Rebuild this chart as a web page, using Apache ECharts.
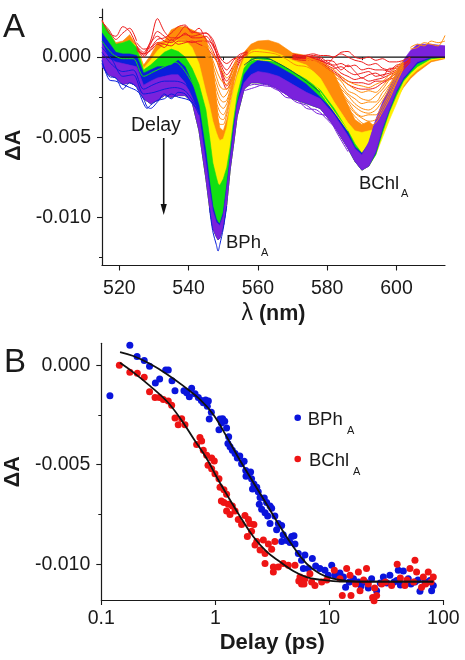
<!DOCTYPE html>
<html><head><meta charset="utf-8">
<style>html,body{margin:0;padding:0;background:#fff}#c{width:465px;height:660px}canvas{filter:blur(0.45px)}</style>
<script src="https://cdn.jsdelivr.net/npm/echarts@6/dist/echarts.min.js"></script></head>
<body><div id="c"></div>
<script>
// Panel A: spectra, signal values in units of 0.001 dA
const wl=[515,517,519,521,523,525,527,529,531,533,535,537,539,541,543,545,546,547,548,548.5,549,550,551,552,553,554,556,558,560,563,566,570,574,578,582,586,588,590,592,594,596,598,600,602,604,606,610,614];
const orangeTop=[2.3,1.5,0.9,1.0,1.4,0.7,-0.5,0.1,0.9,1.0,1.7,1.9,1.9,1.7,1.5,1.2,0.3,-0.3,-2.6,-3.8,-4.4,-4.6,-3.9,-3.0,-1.8,-1.0,0.3,0.8,1.0,1.05,0.85,0.25,0.1,-0.2,-1.0,-3.0,-3.9,-4.2,-4.0,-4.4,-3.5,-2.8,-2.0,-1.2,-0.6,-0.2,0,0];
const yellowTop=[2.2,1.3,0.7,0.9,1.0,0.7,-0.7,-0.2,0.4,0.8,1.0,1.05,1.05,0.6,-0.4,-2.2,-3.0,-4.0,-4.7,-5.0,-5.2,-5.1,-4.4,-3.1,-2.0,-1.2,-0.1,0.4,0.5,0.4,0.2,-0.2,-0.5,-1.3,-2.8,-4.1,-4.6,-4.7,-4.6,-4.5,-3.9,-3.0,-2.1,-1.3,-0.8,-0.4,-0.1,0];
const greenTop=[2.2,1.6,0.8,0.9,1.05,0.6,-0.8,-0.5,-0.1,0.3,0.5,0.35,0.0,-0.7,-1.7,-3.3,-4.9,-6.6,-7.5,-7.9,-8.0,-7.6,-6.9,-5.6,-3.9,-2.4,-0.7,-0.1,0.0,-0.05,-0.4,-0.9,-1.4,-2.05,-3.2,-4.6,-5.4,-6.0,-6.0,-4.6,-3.5,-2.5,-1.6,-0.9,-0.5,-0.2,-0.1,0];
const blueTop=[1.5,0.9,0.3,0.2,0.2,0.1,-1.0,-0.8,-0.6,-0.6,-0.5,-0.2,-0.6,-1.6,-3.0,-5.9,-7.7,-9.3,-10.1,-10.3,-10.4,-9.7,-8.0,-6.2,-4.3,-2.9,-1.1,-0.5,-0.2,-0.3,-0.6,-1.1,-1.7,-2.5,-3.4,-4.7,-5.6,-6.0,-5.4,-4.0,-2.9,-2.0,-1.1,-0.3,0.3,0.6,0.6,0.5];
const violetTop=[0.9,-0.1,-0.3,-0.4,-0.5,-0.6,-1.75,-1.5,-1.3,-1.2,-1.1,-1.1,-1.6,-2.5,-3.6,-6.6,-8.2,-9.6,-10.3,-10.4,-10.5,-9.9,-8.2,-6.4,-4.6,-3.0,-1.6,-1.1,-0.9,-1.0,-1.2,-1.7,-2.2,-2.6,-3.6,-4.9,-5.7,-6.1,-5.3,-3.9,-2.8,-1.9,-1.0,-0.2,0.4,0.8,0.8,0.7];
const sharedFloor=[-0.6,-1.1,-1.3,-1.7,-1.6,-1.8,-2.6,-2.9,-2.7,-2.4,-2.5,-2.4,-2.4,-2.8,-4.6,-7.6,-9.3,-10.7,-11.2,-11.4,-11.3,-10.6,-9.2,-7.0,-5.4,-3.7,-2.0,-1.6,-1.6,-1.7,-2.0,-2.6,-2.9,-3.2,-4.3,-5.7,-6.5,-7.05,-6.8];
const violetFlank=[-5.9,-4.4,-3.2,-2.1,-1.3,-0.8,-0.3,0,0];
const blueFlank=[-6.0,-4.5,-3.3,-2.2,-1.4,-0.9,-0.4,-0.05,0];
const greenFlank=[-6.1,-4.7,-3.4,-2.4,-1.5,-1.0,-0.6,-0.1,0];
const yellowFlank=[-6.1,-5.0,-3.9,-2.9,-1.8,-1.2,-0.8,-0.2,-0.05];
const orangeFlank=[-6.0,-4.6,-3.6,-2.6,-1.9,-1.35,-0.95,-0.3,-0.1];

const redWlEarly=[515,517,519,521,523,525];
const redEarly=[[2.3,1.5,1.3,1.9,1.6,0.7],[2.2,1.7,1.1,1.5,1.8,1.0]];
const redWlLeft=[525,527,529,531,533,535,537,539,541,543,545,547,549,551,553,555,557];
const redLeft=[
[0.5,0.2,1.0,2.4,1.6,1.2,1.2,1.5,1.2,1.2,1.3,0.7,-0.2,-0.8,-0.2,0.2,0.3],
[0.7,0.1,0.8,1.6,1.3,1.0,1.4,1.9,1.6,1.5,1.5,1.1,0.0,-0.4,-0.1,0.0,0.3],
[0.9,0.5,0.6,1.1,1.2,1.5,1.9,2.0,1.5,1.8,1.1,0.8,-0.3,-1.1,-0.5,0.1,0.4],
[0.7,0.3,0.9,1.3,1.0,0.9,1.2,1.4,1.3,1.4,1.5,0.9,-0.5,-1.5,-0.7,0.0,0.2],
[0.6,0.0,0.5,0.9,0.8,0.7,1.0,1.0,0.9,1.0,1.0,0.4,-0.8,-2.0,-1.2,-0.2,0.2],
[0.4,0.2,0.4,0.8,0.6,1.1,0.8,0.9,1.0,0.8,0.6,0.1,-0.6,-1.8,-1.0,-0.1,0.1]];
const redWlRight=[570,573,576,578,580,582,584,586,588,590,592,594,596,598,600,602,604];
const redRight=[
[0.2,0.1,0.2,0.1,0.1,0.0,0.3,0.35,0.0,-0.1,0.0,-0.2,-0.1,-0.3,-0.3,-0.2,0.0],
[0.1,0.1,0.0,-0.1,-0.4,0.0,0.2,0.0,-0.2,-0.3,-0.5,-0.4,-0.7,-0.8,-0.5,-0.4,-0.1],
[0.1,0.0,0.1,0.0,-0.3,-0.5,-0.4,-0.6,-0.5,-0.8,-0.7,-0.8,-0.8,-0.9,-0.6,-0.5,-0.1],
[0.0,0.0,-0.1,-0.2,-0.5,-0.7,-0.6,-0.9,-1.1,-1.0,-0.9,-1.2,-1.1,-1.0,-0.8,-0.5,-0.2],
[0.0,-0.1,0.0,-0.2,-0.4,-0.6,-1.0,-1.2,-1.4,-1.3,-1.5,-1.4,-1.3,-1.1,-0.9,-0.6,-0.2],
[-0.1,-0.1,-0.1,-0.3,-0.6,-0.9,-1.2,-1.5,-1.6,-1.6,-1.7,-1.5,-1.5,-1.3,-1.0,-0.7,-0.3],
[-0.1,-0.2,-0.2,-0.4,-0.7,-1.0,-1.3,-1.7,-1.9,-2.0,-2.0,-1.9,-1.6,-1.4,-1.2,-0.8,-0.3],
[0.1,0.0,-0.1,-0.3,-0.2,-0.3,-0.8,-0.5,-0.9,-1.3,-1.1,-1.0,-1.2,-0.7,-0.7,-0.4,-0.1]];
const orangeWlPeak=[544,545,546,547,548,549,550,551,552,553,554];
const orangePeak=[
[1.2,0.9,0.6,0.2,-0.2,-0.6,-1.0,-1.3,-1.1,-0.5,0.0],
[1.1,0.7,0.3,-0.2,-0.8,-1.3,-1.6,-1.7,-1.3,-0.7,-0.2],
[1.0,0.6,0.1,-0.5,-1.2,-1.8,-2.0,-2.0,-1.6,-0.9,-0.3],
[1.0,0.5,-0.1,-0.9,-1.6,-2.2,-2.5,-2.3,-1.8,-1.0,-0.4],
[0.9,0.4,-0.3,-1.2,-2.0,-2.6,-2.8,-2.7,-2.0,-1.2,-0.5],
[0.9,0.3,-0.5,-1.4,-2.4,-3.0,-3.2,-2.9,-2.2,-1.3,-0.6],
[0.8,0.2,-0.7,-1.7,-2.8,-3.4,-3.6,-3.2,-2.4,-1.4,-0.6],
[0.7,0.1,-0.9,-2.0,-3.1,-3.8,-3.9,-3.4,-2.5,-1.5,-0.7],
[0.7,0.0,-1.0,-2.3,-3.4,-4.2,-4.2,-3.6,-2.7,-1.6,-0.7]];
const orangeWlBChl=[574,578,582,584,586,588,590,592,594,596,598,600,602];
const orangeBChl=[
[0.0,-0.3,-0.8,-1.2,-1.5,-1.7,-1.8,-1.9,-1.7,-1.5,-1.1,-0.6,-0.2],
[0.0,-0.4,-1.0,-1.4,-1.7,-2.0,-2.2,-2.1,-2.2,-1.8,-1.3,-0.8,-0.3],
[-0.1,-0.5,-1.2,-1.5,-2.1,-2.3,-2.6,-2.7,-2.4,-2.0,-1.4,-0.9,-0.3],
[-0.1,-0.6,-1.3,-1.8,-2.3,-2.6,-2.9,-2.8,-2.8,-2.2,-1.7,-1.0,-0.4],
[-0.1,-0.6,-1.4,-2.0,-2.4,-2.9,-3.2,-3.3,-3.0,-2.5,-1.8,-1.1,-0.4],
[-0.2,-0.7,-1.5,-2.1,-2.7,-3.1,-3.4,-3.5,-3.3,-2.7,-2.0,-1.2,-0.5],
[-0.2,-0.7,-1.6,-2.3,-2.8,-3.4,-3.7,-3.6,-3.6,-3.0,-2.2,-1.3,-0.5],
[-0.2,-0.8,-1.7,-2.4,-3.0,-3.5,-3.8,-4.0,-3.9,-3.2,-2.4,-1.5,-0.6],
[-0.2,-0.9,-1.8,-2.5,-3.2,-3.7,-4.1,-4.3,-4.1,-3.4,-2.6,-1.6,-0.7]];
const orangeWlEnd=[604,606,608,610,612,614];
const orangeEnd=[[0.5,0.6,0.9,0.8,0.7,1.35],[0.6,0.8,0.7,1.0,0.9,1.0]];
const blueWlTip=[546,547,548,548.5,549,550,551];
const blueTip=[-9.4,-10.9,-11.7,-12.1,-11.7,-10.7,-9.3];
const blueWlDip=[515,517,519,521,523,525,527,528,529,531,533,535,537,539,541,543];
const blueDip=[
[-0.4,-1.2,-1.3,-2.0,-1.6,-1.9,-2.9,-3.2,-3.0,-2.7,-2.6,-2.3,-2.5,-2.6,-2.8,-3.6],
[-0.2,-1.4,-1.5,-1.7,-1.9,-2.1,-2.6,-3.1,-3.2,-2.8,-2.3,-2.6,-2.2,-2.3,-2.9,-3.3]];
const wlEdge=[515,518,521,524,527,530,533,536,539,542];
const blueOverViolet=[[0.3,-0.5,-0.9,-0.8,-2.0,-1.7,-1.5,-1.5,-1.7,-2.6],[0.6,-0.2,-1.2,-1.1,-2.3,-2.2,-2.0,-1.9,-2.1,-3.0]];
const greenOverBlue=[[1.0,0.2,-0.1,-0.1,-1.2,-0.9,-0.6,-0.3,-0.9,-2.0]];
const wlMid=[556,559,562,565,568,571,574,577,580,583,586];
const violetLower=[[-2.1,-1.9,-1.7,-2.0,-2.3,-2.8,-3.0,-3.5,-3.7,-4.8,-5.9],[-1.9,-1.7,-1.8,-1.9,-2.5,-2.6,-3.2,-3.3,-3.9,-4.6,-5.7]];
const orangeOverYellow=[0.0,0.35,0.3,0.2,-0.1,-0.5,-0.6,-1.0,-1.8,-2.9,-4.0];
const yellowOverGreen=[-0.5,-0.15,-0.2,-0.25,-0.5,-1.0,-1.2,-1.9,-2.8,-3.7,-4.6];
const wlDark=[556,558,560,563,566,570,574,578];
const darkTeal=[-0.5,-0.2,-0.05,-0.1,-0.4,-0.9,-1.5,-2.2];

// Panel B: [delay in ps, signal in units of 0.001 dA]
const bphPoints=[[0.119,-1.53],[0.178,1.0],[0.206,0.44],[0.238,0.24],[0.265,-0.05],[0.298,-0.9],[0.325,-0.7],[0.367,-0.24],[0.387,-0.24],[0.417,-0.78],[0.443,-1.29],[0.531,-1.29],[0.561,-1.38],[0.592,-1.58],[0.62,-1.16],[0.664,-1.43],[0.71,-1.63],[0.754,-1.77],[0.785,-1.89],[0.822,-1.75],[0.869,-1.8],[0.851,-2.06],[0.923,-2.36],[0.885,-2.7],[1.099,-2.7],[1.16,-2.69],[1.21,-2.82],[1.13,-2.91],[1.077,-3.25],[1.256,-3.16],[1.31,-3.59],[1.29,-3.93],[1.346,-4.1],[1.41,-4.27],[1.49,-4.44],[1.56,-4.66],[1.64,-4.56],[1.79,-4.83],[1.7,-4.95],[1.85,-5.29],[1.95,-5.46],[2.04,-5.37],[1.86,-5.58],[2.08,-5.71],[2.18,-5.97],[2.31,-6.14],[2.12,-6.22],[2.38,-6.36],[2.47,-6.65],[2.69,-6.68],[2.82,-6.9],[3.02,-7.07],[2.43,-6.99],[2.55,-7.24],[2.73,-7.41],[3.12,-7.19],[2.88,-7.58],[3.33,-7.58],[3.02,-7.96],[3.57,-7.96],[3.82,-8.06],[3.45,-8.27],[3.94,-8.52],[3.82,-8.86],[4.23,-8.81],[4.68,-8.61],[4.9,-8.57],[4.52,-8.91],[5.0,-8.98],[5.35,-9.46],[6.11,-9.54],[5.71,-9.8],[7.1,-9.71],[5.92,-10.22],[6.55,-10.22],[7.59,-10.09],[8.28,-10.22],[9.16,-10.31],[10.5,-10.05],[9.8,-10.56],[11.2,-10.56],[12.4,-10.44],[13.3,-10.65],[13.9,-11.16],[15,-10.9],[16.3,-10.73],[18,-10.9],[19,-11.1],[20.6,-10.9],[22,-11.2],[23.5,-10.73],[26,-11.33],[28,-10.95],[29.8,-10.65],[32,-10.95],[34,-10.56],[37,-10.9],[40.3,-10.31],[44.6,-10.34],[39,-10.82],[42,-11.05],[49.3,-10.73],[52,-11.0],[56.4,-10.9],[62.4,-11.36],[60,-10.8],[69,-10.9],[76.4,-10.82],[79,-11.33],[81.7,-11.07]];
const bchlPoints=[[0.144,0],[0.178,-0.36],[0.207,-0.41],[0.238,-0.61],[0.265,-1.33],[0.296,-1.63],[0.323,-1.63],[0.35,-1.72],[0.387,-1.8],[0.414,-2.01],[0.443,-2.65],[0.507,-2.69],[0.473,-2.99],[0.542,-2.99],[0.686,-3.98],[0.733,-3.64],[0.759,-3.81],[0.785,-4.27],[0.84,-4.52],[0.929,-4.66],[0.98,-4.81],[0.863,-5.03],[0.929,-5.2],[0.993,-5.46],[1.077,-5.71],[1.1,-6.14],[1.19,-6.26],[1.256,-6.48],[1.13,-6.82],[1.19,-6.9],[1.3,-6.99],[1.41,-7.07],[1.256,-7.33],[1.346,-7.5],[1.49,-7.33],[1.59,-7.76],[1.82,-7.55],[1.95,-7.76],[1.7,-8.01],[2.01,-7.96],[2.18,-8.01],[1.91,-8.61],[2.08,-8.35],[2.31,-8.86],[2.23,-9.03],[2.47,-9.29],[2.64,-8.78],[2.92,-8.98],[2.73,-9.46],[3.12,-9.25],[3.33,-8.86],[2.73,-9.97],[3.23,-10.14],[3.23,-10.39],[3.57,-10.14],[3.94,-9.97],[4.37,-10.05],[5,-10.05],[5.53,-10.65],[5.71,-10.99],[5.4,-10.85],[6.12,-10.73],[6.0,-11.0],[6.76,-10.48],[7.48,-11.07],[7.0,-10.9],[8.57,-10.9],[9.5,-10.8],[11.07,-10.31],[12.4,-10.73],[14.2,-10.22],[15.2,-10.56],[13,-11.58],[15.5,-11.58],[18,-10.39],[18.6,-11.33],[17,-11.0],[20,-10.8],[21.2,-10.22],[22,-10.99],[24,-11.67],[24.7,-11.84],[26,-11.58],[25,-11.2],[28.8,-10.99],[31,-10.9],[35.2,-11.07],[39.4,-10],[42,-10.7],[46,-11.07],[48,-10.8],[51,-10.22],[56.4,-9.8],[58.3,-10.39],[55,-10.9],[64.5,-11.16],[66.8,-10.65],[70,-11.0],[73.8,-10.39],[78,-10.9],[81.7,-10.65]];
const bphFit=[[0.146,0.66],[0.191,0.46],[0.267,0.07],[0.374,-0.44],[0.524,-1.04],[0.733,-1.72],[0.96,-2.48],[1.256,-3.59],[1.644,-4.78],[2.15,-5.88],[2.82,-6.99],[3.69,-8.1],[4.83,-9.12],[6.32,-9.97],[8.28,-10.48],[10.8,-10.73],[15.2,-10.85],[21.2,-10.88],[81.7,-10.88]];
const bchlFit=[[0.146,0.12],[0.191,-0.36],[0.267,-1.04],[0.374,-1.8],[0.49,-2.65],[0.641,-3.67],[0.84,-4.69],[1.03,-5.63],[1.256,-6.48],[1.644,-7.59],[2.15,-8.61],[2.82,-9.37],[3.69,-9.88],[4.83,-10.34],[6.32,-10.65],[8.28,-10.78],[10.8,-10.85],[15.2,-10.88],[81.7,-10.88]];

const ticksAX=[520,540,560,580,600], minorAX=[530,550,570,590,610];
const ticksAY=[-0.01,-0.005,0], minorAY=[-0.0125,-0.0075,-0.0025,0.0025];
const ticksBY=[-0.01,-0.005,0], minorBY=[-0.0075,-0.0025];

const COL={red:'#ee1c1c',orange:'#ff8c0a',yellow:'#fff000',green:'#12e012',blue:'#0a1edc',violet:'#7a22dc'};
const FONT='"Liberation Sans", Arial, sans-serif', INK='#1a1a1a';
const m=v=>v/1000;
const polyline=(x,y,color,w)=>({type:'line',xAxisIndex:0,yAxisIndex:0,data:x.map((v,i)=>[v,m(y[i])]),smooth:0.3,showSymbol:false,silent:true,animation:false,lineStyle:{color,width:w||1}});
const band=(top,floor,color)=>({type:'custom',xAxisIndex:0,yAxisIndex:0,clip:true,silent:true,animation:false,
  data:wl.map((v,i)=>[v,m(top[i]),m(floor[i])]),encode:{x:0,y:1},
  renderItem:(p,api)=>{ if(p.dataIndex!==0) return null;
    const pts=[]; wl.forEach((v,i)=>pts.push(api.coord([v,m(top[i])])));
    for(let i=wl.length-1;i>=0;i--) pts.push(api.coord([wl[i],m(floor[i])]));
    return {type:'polygon',shape:{points:pts},style:{fill:color,stroke:color,lineWidth:0.6,lineJoin:'round'}};
  }});

const series=[
 {type:'line',xAxisIndex:0,yAxisIndex:0,data:[[515,0],[614,0]],showSymbol:false,silent:true,animation:false,lineStyle:{color:'#111',width:1.2}},
 ...redEarly.map(y=>polyline(redWlEarly,y,COL.red)),
 ...redLeft.map(y=>polyline(redWlLeft,y,COL.red)),
 ...redRight.map(y=>polyline(redWlRight,y,COL.red)),
 band(orangeTop,sharedFloor.concat(orangeFlank),COL.orange),
 ...orangePeak.map(y=>polyline(orangeWlPeak,y,COL.orange)),
 ...orangeBChl.map(y=>polyline(orangeWlBChl,y,COL.orange)),
 ...orangeEnd.map(y=>polyline(orangeWlEnd,y,COL.orange)),
 band(yellowTop,sharedFloor.concat(yellowFlank),COL.yellow),
 polyline(wlMid,orangeOverYellow,COL.orange),
 band(greenTop,sharedFloor.concat(greenFlank),COL.green),
 polyline(wlMid,yellowOverGreen,COL.yellow),
 polyline(blueWlTip,blueTip,COL.blue),
 ...blueDip.map(y=>polyline(blueWlDip,y,COL.blue)),
 ...violetLower.map(y=>polyline(wlMid,y,COL.violet)),
 band(blueTop,sharedFloor.concat(blueFlank),COL.blue),
 band(violetTop,sharedFloor.concat(violetFlank),COL.violet),
 ...blueOverViolet.map(y=>polyline(wlEdge,y,COL.blue)),
 ...greenOverBlue.map(y=>polyline(wlEdge,y,COL.green)),
 polyline(wlDark,darkTeal,'#0a5a50'),
 {type:'scatter',xAxisIndex:2,yAxisIndex:2,data:bphPoints.map(p=>[p[0],m(p[1])]),symbolSize:7,clip:false,silent:true,animation:false,itemStyle:{color:'#0a14dc',opacity:1}},
 {type:'scatter',xAxisIndex:2,yAxisIndex:2,data:bchlPoints.map(p=>[p[0],m(p[1])]),symbolSize:7,clip:false,silent:true,animation:false,itemStyle:{color:'#ee1414',opacity:1}},
 {type:'line',xAxisIndex:2,yAxisIndex:2,data:bphFit.map(p=>[p[0],m(p[1])]),smooth:0.4,showSymbol:false,silent:true,animation:false,lineStyle:{color:'#111',width:1.8}},
 {type:'line',xAxisIndex:2,yAxisIndex:2,data:bchlFit.map(p=>[p[0],m(p[1])]),smooth:0.4,showSymbol:false,silent:true,animation:false,lineStyle:{color:'#111',width:1.8}}
];

const line={show:true,onZero:false,lineStyle:{color:INK,width:1.2}};
const lab={color:INK,fontFamily:FONT,fontSize:19.5};
const fmt=v=>(+v).toFixed(3);
const xAxes=[
 {gridIndex:0,type:'value',min:515,max:614,position:'bottom',axisLine:line,splitLine:{show:false},
  axisTick:{show:true,length:5,customValues:ticksAX,lineStyle:{color:INK,width:1.1}},
  axisLabel:{...lab,margin:13,customValues:ticksAX,formatter:v=>String(v)},
  name:'{l|λ} (nm)',nameLocation:'middle',nameGap:37,nameTextStyle:{fontFamily:FONT,fontSize:21.5,fontWeight:'bold',color:INK,rich:{l:{fontFamily:FONT,fontSize:23,fontWeight:'normal',color:INK}}}},
 {gridIndex:0,type:'value',min:515,max:614,position:'bottom',axisLine:{show:false},splitLine:{show:false},
  axisTick:{show:true,length:3,customValues:minorAX,lineStyle:{color:INK,width:1}},axisLabel:{show:false}},
 {gridIndex:1,type:'log',logBase:10,min:0.1,max:100,position:'bottom',axisLine:line,splitLine:{show:false},minorTick:{show:false},
  axisTick:{show:true,length:5,lineStyle:{color:INK,width:1.1}},
  axisLabel:{...lab,margin:9,formatter:v=>String(v),hideOverlap:false},
  name:'Delay (ps)',nameLocation:'middle',nameGap:32,nameTextStyle:{fontFamily:FONT,fontSize:22,fontWeight:'bold',color:INK}}
];
const dA={fontFamily:FONT,fontSize:21.5,fontWeight:'bold',color:INK};
const yAxes=[
 {gridIndex:0,type:'value',min:-0.013,max:0.003,position:'left',axisLine:line,splitLine:{show:false},
  axisTick:{show:true,length:5,customValues:ticksAY,lineStyle:{color:INK,width:1.1}},
  axisLabel:{...lab,margin:11,customValues:ticksAY,formatter:fmt},
  name:'ΔA',nameLocation:'middle',nameGap:76,nameRotate:90,nameTextStyle:{...dA,padding:[0,16,0,0]}},
 {gridIndex:0,type:'value',min:-0.013,max:0.003,position:'left',axisLine:{show:false},splitLine:{show:false},
  axisTick:{show:true,length:3,customValues:minorAY,lineStyle:{color:INK,width:1}},axisLabel:{show:false}},
 {gridIndex:1,type:'value',min:-0.0118,max:0.0011,position:'left',axisLine:line,splitLine:{show:false},
  axisTick:{show:true,length:5,customValues:ticksBY,lineStyle:{color:INK,width:1.1}},
  axisLabel:{...lab,margin:11,customValues:ticksBY,formatter:fmt},
  name:'ΔA',nameLocation:'middle',nameGap:76,nameRotate:90,nameTextStyle:dA},
 {gridIndex:1,type:'value',min:-0.0118,max:0.0011,position:'left',axisLine:{show:false},splitLine:{show:false},
  axisTick:{show:true,length:3,customValues:minorBY,lineStyle:{color:INK,width:1}},axisLabel:{show:false}}
];
const txt=(s,x,base,size,extra)=>({type:'text',x,y:base-size*0.36,silent:true,style:{text:s,fontFamily:FONT,fontSize:size,fill:INK,verticalAlign:'middle',align:'left',...(extra||{})}});
const graphic=[
 txt('A',3,40,33),txt('B',4,375,33),
 txt('Delay',131,133,19.5),
 txt('BPh',226,250,18.5),txt('A',261,257,11),
 txt('BChl',359,191,18.5),txt('A',401,198,11),
 {type:'line',silent:true,shape:{x1:163.7,y1:138,x2:163.7,y2:210},style:{stroke:'#111',lineWidth:1.6}},
 {type:'polygon',silent:true,shape:{points:[[160.6,204],[166.8,204],[163.7,215]]},style:{fill:'#111'}},
 {type:'circle',silent:true,shape:{cx:297.7,cy:417.7,r:3.3},style:{fill:'#0a14dc'}},
 {type:'circle',silent:true,shape:{cx:297.7,cy:459,r:3.3},style:{fill:'#ee1414'}},
 txt('BPh',307.7,427,18.5),txt('A',347,435,11),
 txt('BChl',309,468,18.5),txt('A',353,476,11)
];
const chart=echarts.init(document.getElementById('c'),null,{renderer:'canvas'});
chart.setOption({animation:false,backgroundColor:'#fff',
 grid:[{left:102,right:20,top:9,height:256.5,outerBoundsMode:'none'},{left:101.3,width:342,top:343.3,height:256.7,outerBoundsMode:'none'}],
 xAxis:xAxes,yAxis:yAxes,series,graphic});
</script></body></html>
